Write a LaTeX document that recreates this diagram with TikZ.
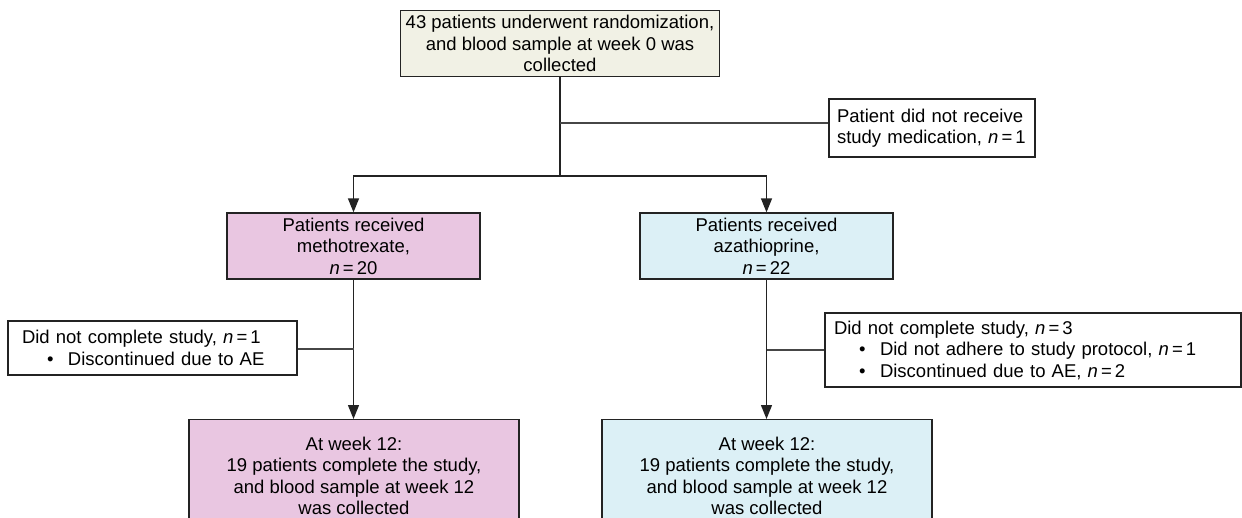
\documentclass[tikz,border=0pt]{standalone}
\usepackage{fontspec}
\setmainfont{Liberation Sans}
\usetikzlibrary{arrows.meta}
\definecolor{beigefill}{RGB}{241,241,229}
\definecolor{pinkfill}{RGB}{233,198,225}
\definecolor{bluefill}{RGB}{220,240,246}
\definecolor{boxline}{RGB}{35,35,35}
\definecolor{branchline}{RGB}{70,70,70}
\newcommand{\nn}{\textit{n}\,=\,}
\newcommand{\bul}{\hspace*{25pt}\makebox[21pt][l]{•}}
\begin{document}
\begin{tikzpicture}[x=1pt,y=-1pt,
  box/.style={draw=boxline, line width=1.3pt, inner sep=0pt,
    font=\fontsize{18.5}{21.5}\selectfont, align=center},
  leftbox/.style={box, align=left},
  arr/.style={draw=boxline, line width=1.3pt, -{Triangle[length=14pt,width=11pt]}},
  conn/.style={draw=boxline, line width=1.3pt},
  branch/.style={draw=branchline, line width=1.8pt}]
\useasboundingbox (0,0) rectangle (1242,517);
\clip (0,0) rectangle (1242,517);

\node[box, fill=beigefill, minimum width=319pt, minimum height=66pt] (top) at (560,43.5)
  {43 patients underwent randomization,\\and blood sample at week 0 was\\collected};

\node[leftbox, fill=white, minimum width=206pt, minimum height=58pt, text width=190pt, inner xsep=8pt] (side) at (932,128)
  {Patient did not receive\\study medication, \nn 1};

\node[box, fill=pinkfill, minimum width=253pt, minimum height=66pt] (pink) at (353.5,246)
  {Patients received\\methotrexate,\\\nn 20};
\node[box, fill=bluefill, minimum width=253pt, minimum height=66pt] (blue) at (766.5,246)
  {Patients received\\azathioprine,\\\nn 22};

\node[leftbox, fill=white, minimum width=289pt, minimum height=54pt, text width=261pt, inner xsep=14pt] (lbox) at (152.5,348)
  {Did not complete study, \nn 1\\\bul Discontinued due to AE};
\node[leftbox, fill=white, minimum width=416pt, minimum height=74pt, text width=398pt, inner xsep=9pt] (rbox) at (1033,350)
  {Did not complete study, \nn 3\\\bul Did not adhere to study protocol, \nn 1\\\bul Discontinued due to AE, \nn 2};

\node[box, fill=pinkfill, anchor=north, minimum width=330pt, inner ysep=17pt] (pinkbot) at (354,419)
  {At week 12:\\19 patients complete the study,\\and blood sample at week 12\\was collected};
\node[box, fill=bluefill, anchor=north, minimum width=330pt, inner ysep=17pt] (bluebot) at (767,419)
  {At week 12:\\19 patients complete the study,\\and blood sample at week 12\\was collected};

\coordinate (split) at (560,176);
\draw[conn] (top.south) -- (split);
\draw[arr] (split) -| (pink.north);
\draw[arr] (split) -| (blue.north);
\draw[branch] ([yshift=5pt]side.west) -- ([yshift=5pt]side.west -| top.south);

\draw[arr] (pink.south) -- (pink.south |- pinkbot.north);
\draw[arr] (blue.south) -- (blue.south |- bluebot.north);
\draw[branch] ([yshift=-1pt]lbox.east) -- ([yshift=-1pt]lbox.east -| pink.south);
\draw[branch] (rbox.west) -- (rbox.west -| blue.south);
\end{tikzpicture}
\end{document}
